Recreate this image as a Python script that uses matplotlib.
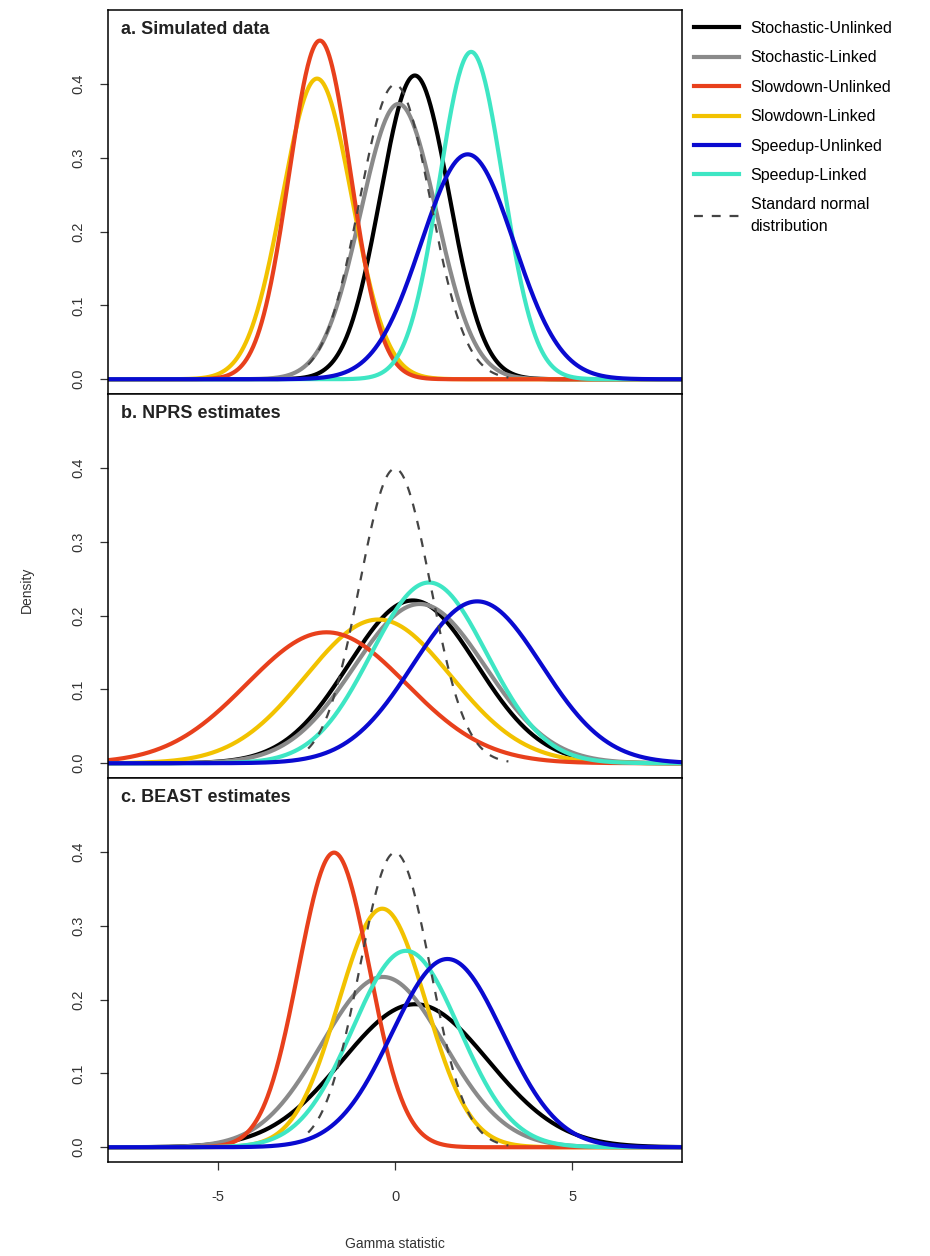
import numpy as np
import matplotlib
matplotlib.use("Agg")
import matplotlib.pyplot as plt
from matplotlib.lines import Line2D

plt.rcParams["font.family"] = ["Liberation Sans", "DejaVu Sans"]

# series in legend order
labels = ["Stochastic-Unlinked", "Stochastic-Linked", "Slowdown-Unlinked",
          "Slowdown-Linked", "Speedup-Unlinked", "Speedup-Linked"]
colors = ["#000000", "#8a8a8a", "#e8401c", "#f2c200", "#0a0ad0", "#3ee6c4"]

panel_titles = ["a. Simulated data", "b. NPRS estimates", "c. BEAST estimates"]

# fitted normal densities: mean and sd per series
means_sim = [0.56, 0.10, -2.12, -2.20, 2.05, 2.15]
sds_sim = [0.97, 1.07, 0.87, 0.98, 1.31, 0.90]
means_nprs = [0.50, 0.70, -1.93, -0.47, 2.32, 0.96]
sds_nprs = [1.81, 1.85, 2.25, 2.05, 1.82, 1.63]
means_beast = [0.57, -0.34, -1.72, -0.36, 1.48, 0.31]
sds_beast = [2.06, 1.73, 1.00, 1.235, 1.565, 1.50]

# standard normal reference (drawn over a limited range as in the original)
norm_lo, norm_hi = -2.45, 3.2

y_ticks = [0.0, 0.1, 0.2, 0.3, 0.4]
x_ticks = [-5, 0, 5]


def dnorm(x, m, s):
    return np.exp(-0.5 * ((x - m) / s) ** 2) / (s * np.sqrt(2 * np.pi))


fig = plt.figure(figsize=(9.3, 12.56), dpi=100)

left, width = 108 / 930, 574 / 930
ph = 384 / 1256
top = 1 - 10 / 1256
panels = [(means_sim, sds_sim), (means_nprs, sds_nprs), (means_beast, sds_beast)]
order = [0, 1, 3, 2, 5, 4]  # red over yellow, blue on top
x = np.linspace(-8.1, 8.1, 800)
xn = np.linspace(norm_lo, norm_hi, 300)

axes = []
for i, (mu, sd) in enumerate(panels):
    ax = fig.add_axes([left, top - (i + 1) * ph, width, ph])
    for j in order:
        ax.plot(x, dnorm(x, mu[j], sd[j]), color=colors[j], lw=3.0,
                solid_capstyle="round")
    ax.plot(xn, dnorm(xn, 0, 1), color="#444444", lw=1.6, ls=(0, (4, 4)))
    ax.set_xlim(-8.1, 8.1)
    ax.set_ylim(-0.02, 0.5)
    ax.set_yticks(y_ticks)
    ax.set_yticklabels([f"{v:.1f}" for v in y_ticks], rotation=90,
                       va="center", fontsize=10.5, color="#333333")
    ax.tick_params(axis="y", length=6, width=0.9, pad=10, color="#333333")
    ax.text(0.022, 0.95, panel_titles[i], transform=ax.transAxes,
            fontsize=13, fontweight="bold", va="center", ha="left",
            color="#222222")
    for sp in ax.spines.values():
        sp.set_linewidth(1.1)
    if i < 2:
        ax.set_xticks([])
    else:
        ax.set_xticks(x_ticks)
        ax.set_xticklabels(["-5", "0", "5"], fontsize=10.5, color="#333333")
        ax.tick_params(axis="x", length=6, width=0.9, pad=14, color="#333333")
    axes.append(ax)

fig.text(27 / 930, 1 - 590 / 1256, "Density", rotation=90, ha="center",
         va="center", fontsize=10, color="#333333")
fig.text(395 / 930, 1 - 1244 / 1256, "Gamma statistic", ha="center",
         va="center", fontsize=10, color="#333333")

handles = [Line2D([], [], color=c, lw=3.0) for c in colors]
handles.append(Line2D([], [], color="#444444", lw=1.6, ls=(0, (4, 4))))
leg_labels = labels + ["Standard normal\ndistribution"]
leg = fig.legend(handles, leg_labels, loc="upper left",
                 bbox_to_anchor=(694 / 930, 1 - 21 / 1256), frameon=False,
                 fontsize=11.5, handlelength=2.8, handletextpad=0.75,
                 labelspacing=0.9, borderaxespad=0, borderpad=0)
leg.get_texts()[-1].set_linespacing(1.55)

fig.savefig("out.png", dpi=100)
